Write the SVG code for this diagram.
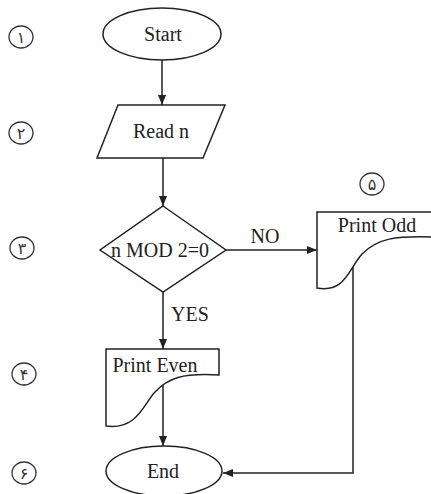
<svg xmlns="http://www.w3.org/2000/svg" width="431" height="494" viewBox="0 0 431 494">
  <defs>
    <marker id="arrow" viewBox="0 0 10 10" refX="10" refY="5" markerWidth="10" markerHeight="10" markerUnits="userSpaceOnUse" orient="auto">
      <path d="M0,1 L10,5 L0,9 Z" fill="#222"/>
    </marker>
  </defs>
  <style>
    .shape { fill: #fff; stroke: #222; stroke-width: 1.5; }
    .edge { fill: none; stroke: #222; stroke-width: 1.5; marker-end: url(#arrow); }
    .label { font-family: "Liberation Serif", "Times New Roman", serif; font-size: 20px; fill: #222; text-anchor: middle; }
    .step { fill: none; stroke: #333; stroke-width: 1.3; }
    .num { font-family: "DejaVu Sans", sans-serif; font-size: 16px; fill: #333; text-anchor: middle; }
  </style>
  <rect width="431" height="494" fill="#fff"/>

  <!-- step numbers -->
  <g id="step-numbers">
    <ellipse class="step" cx="21" cy="37" rx="12" ry="11"/>
    <text class="num" x="21" y="43">۱</text>
    <ellipse class="step" cx="21" cy="133" rx="12" ry="11"/>
    <text class="num" x="21" y="139">۲</text>
    <ellipse class="step" cx="22" cy="248" rx="12" ry="11"/>
    <text class="num" x="22" y="254">۳</text>
    <ellipse class="step" cx="24" cy="374" rx="12" ry="11"/>
    <text class="num" x="24" y="380">۴</text>
    <ellipse class="step" cx="372" cy="184" rx="12" ry="11"/>
    <text class="num" x="372" y="190">۵</text>
    <ellipse class="step" cx="24" cy="473" rx="12" ry="11"/>
    <text class="num" x="24" y="479">۶</text>
  </g>

  <!-- connectors -->
  <g id="connectors">
    <line class="edge" x1="162" y1="60" x2="162" y2="105"/>
    <line class="edge" x1="163" y1="158" x2="163" y2="206"/>
    <line class="edge" x1="226" y1="250" x2="317" y2="250"/>
    <line class="edge" x1="163" y1="292" x2="163" y2="349"/>
    <line class="edge" x1="163" y1="382" x2="163" y2="446"/>
    <path class="edge" d="M353,265 V473 H223"/>
    <text class="label" x="265" y="243">NO</text>
    <text class="label" x="190" y="321">YES</text>
  </g>

  <g id="start">
    <ellipse class="shape" cx="162" cy="34" rx="59" ry="26"/>
    <text class="label" x="163" y="41">Start</text>
  </g>

  <g id="read-n">
    <polygon class="shape" points="118,105 225,105 203,158 97,158"/>
    <text class="label" x="161" y="138">Read n</text>
  </g>

  <g id="decision">
    <polygon class="shape" points="163,206 226,250 163,292 100,250"/>
    <text class="label" x="160" y="257" font-size="19">n MOD 2=0</text>
  </g>

  <g id="print-even">
    <path class="shape" d="M106,349 H219 V375 C182,373 168,378 155,392 C143,405 137,430 106,426 Z"/>
    <text class="label" x="155" y="372">Print Even</text>
  </g>

  <g id="print-odd">
    <path class="shape" d="M317,212 H433 V237 C395,236 378,238 362,254 C348,270 345,293 317,288 Z"/>
    <text class="label" x="377" y="232">Print Odd</text>
  </g>

  <g id="end">
    <ellipse class="shape" cx="164" cy="471" rx="58" ry="25"/>
    <text class="label" x="163" y="478">End</text>
  </g>
</svg>
